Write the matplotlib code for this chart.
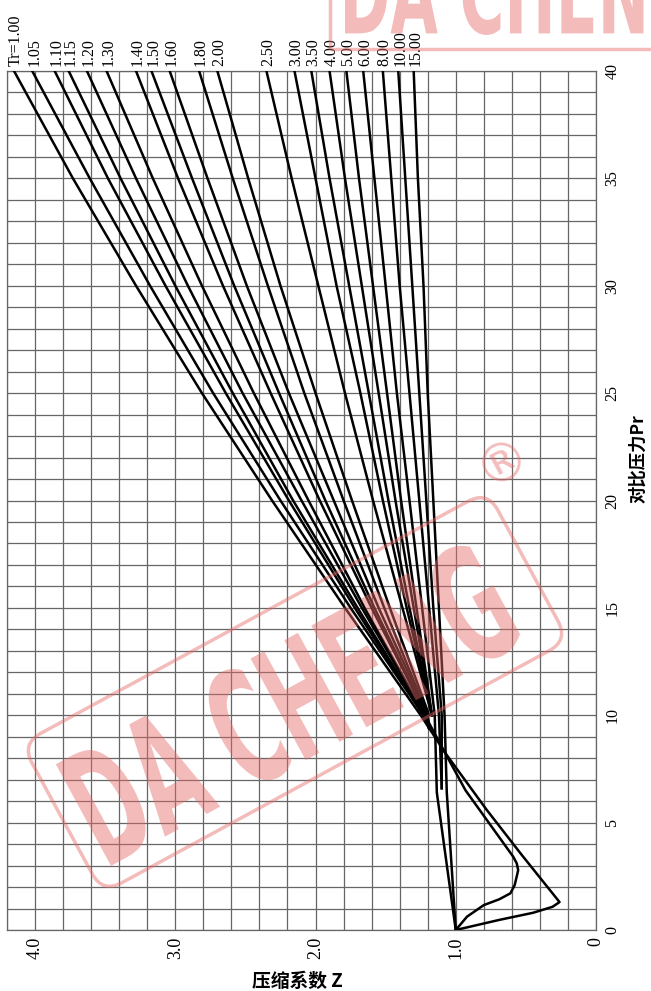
import numpy as np
import matplotlib
matplotlib.use("Agg")
import matplotlib.pyplot as plt
from matplotlib.textpath import TextPath
from matplotlib.font_manager import FontProperties
from matplotlib.patches import PathPatch, FancyBboxPatch, Rectangle
from matplotlib.transforms import Affine2D, IdentityTransform

# ---------------- data ----------------
tr_labels = ["Tr=1.00", "1.05", "1.10", "1.15", "1.20", "1.30", "1.40", "1.50",
             "1.60", "1.80", "2.00", "2.50", "3.00", "3.50", "4.00", "5.00",
             "6.00", "8.00", "10.00", "15.00"]

pr_high = [10, 15, 20, 25, 30, 35, 40]

z_100 = [1.25, 1.79, 2.31, 2.81, 3.28, 3.73, 4.15]
z_105 = [1.23, 1.75, 2.25, 2.73, 3.18, 3.61, 4.02]
z_110 = [1.23, 1.72, 2.19, 2.64, 3.07, 3.48, 3.86]
z_115 = [1.23, 1.70, 2.16, 2.59, 3.00, 3.39, 3.76]
z_120 = [1.22, 1.67, 2.10, 2.52, 2.91, 3.28, 3.63]
z_130 = [1.22, 1.65, 2.05, 2.44, 2.81, 3.16, 3.49]
z_140 = [1.21, 1.60, 1.97, 2.32, 2.66, 2.98, 3.28]
z_150 = [1.21, 1.58, 1.93, 2.26, 2.58, 2.88, 3.17]
z_160 = [1.20, 1.55, 1.87, 2.19, 2.49, 2.77, 3.04]
z_180 = [1.20, 1.51, 1.80, 2.08, 2.34, 2.59, 2.83]
z_200 = [1.19, 1.47, 1.74, 2.00, 2.25, 2.48, 2.70]
z_250 = [1.17, 1.38, 1.59, 1.79, 1.98, 2.17, 2.35]
z_300 = [1.17, 1.35, 1.52, 1.68, 1.85, 2.00, 2.15]
z_350 = [1.17, 1.33, 1.48, 1.62, 1.76, 1.90, 2.03]
z_400 = [1.17, 1.30, 1.43, 1.55, 1.67, 1.79, 1.90]
z_500 = [1.17, 1.28, 1.39, 1.49, 1.59, 1.69, 1.78]
z_600 = [1.15, 1.24, 1.33, 1.42, 1.50, 1.58, 1.66]
z_800 = [1.12, 1.19, 1.26, 1.33, 1.40, 1.46, 1.52]
z_1000 = [1.10, 1.16, 1.21, 1.26, 1.31, 1.36, 1.41]
z_1500 = [1.08, 1.12, 1.16, 1.20, 1.23, 1.27, 1.30]

# low-pressure parts of the curves that reach below Pr = 10
pr_low_100 = [0, 0.47, 0.8, 1.08, 1.3, 3.5, 5.6, 8.2]
z_low_100 = [1.0, 0.69, 0.45, 0.31, 0.26, 0.53, 0.78, 1.07]
pr_low_120 = [0, 0.62, 1.16, 1.43, 1.71, 2.09, 2.5, 2.79, 3.1, 3.41, 6.5, 8.05]
z_low_120 = [1.0, 0.92, 0.80, 0.69, 0.61, 0.58, 0.565, 0.555, 0.565, 0.59, 0.93, 1.06]
pr_low_600 = [0, 6.4]
z_low_600 = [1.0, 1.135]
pr_low_800 = [6.6]
z_low_800 = [1.10]
pr_low_1000 = [6.6]
z_low_1000 = [1.10]
pr_low_1500 = [0, 6.4]
z_low_1500 = [1.0, 1.064]
pr_fan = [9.4]
z_fan = [1.19]

z_ticks = [0, 1, 2, 3, 4]
z_ticklabels = ["0", "1.0", "2.0", "3.0", "4.0"]
pr_ticks = [0, 5, 10, 15, 20, 25, 30, 35, 40]
pr_ticklabels = ["0", "5", "10", "15", "20", "25", "30", "35", "40"]

z_high_all = [z_100, z_105, z_110, z_115, z_120, z_130, z_140, z_150, z_160,
              z_180, z_200, z_250, z_300, z_350, z_400, z_500, z_600, z_800,
              z_1000, z_1500]
low_parts = {
    "Tr=1.00": (pr_low_100, z_low_100),
    "1.20": (pr_low_120, z_low_120),
    "6.00": (pr_low_600, z_low_600),
    "8.00": (pr_low_800, z_low_800),
    "10.00": (pr_low_1000, z_low_1000),
    "15.00": (pr_low_1500, z_low_1500),
}
fan_labels = ["1.05", "1.10", "1.15", "1.30", "1.40", "1.50", "1.60", "1.80"]

# ---------------- figure ----------------
W, H = 651, 991
fig = plt.figure(figsize=(W / 100, H / 100), dpi=100)
fig.patch.set_facecolor("white")
ax = fig.add_axes([7 / W, 61 / H, 589 / W, 859 / H])
ax.set_xlim(4.2, 0)
ax.set_ylim(0, 40)

serif = "Liberation Serif"
ax.set_xticks(z_ticks)
ax.set_xticklabels(z_ticklabels, rotation=90, fontfamily=serif, fontsize=13)
ax.yaxis.tick_right()
ax.set_yticks(pr_ticks)
ax.set_yticklabels(pr_ticklabels, rotation=90, fontfamily=serif, fontsize=11.5,
                   va="center")
ax.set_xticks(np.arange(0, 4.21, 0.2), minor=True)
ax.set_yticks(np.arange(0, 40.1, 1), minor=True)
ax.tick_params(which="both", length=0)
ax.tick_params(axis="x", pad=5)
ax.tick_params(axis="y", pad=6)
ax.grid(which="both", color="#666666", lw=0.9)
ax.set_axisbelow(True)
for s in ax.spines.values():
    s.set_color("#666666")
    s.set_linewidth(0.9)

for lbl, zh in zip(tr_labels, z_high_all):
    if lbl in low_parts:
        pl, zl = low_parts[lbl]
    elif lbl in fan_labels:
        pl, zl = pr_fan, z_fan
    else:
        pl, zl = [], []
    pr = list(pl) + pr_high
    zz = list(zl) + zh
    ax.plot(zz, pr, color="black", lw=1.8, solid_joinstyle="round", zorder=3)
    ax.annotate(lbl, xy=(zh[-1], 40), xytext=(2, 5), textcoords="offset pixels",
                rotation=90, ha="center", va="bottom", fontfamily=serif,
                fontsize=11.5, annotation_clip=False)

cjk = ["Noto Sans CJK SC", "DejaVu Sans"]
fig.text(297 / W, 1 - 981 / H, "压缩系数 Z", family=cjk, fontsize=13.5,
         fontweight="bold", ha="center", va="center")
fig.text(638 / W, 1 - 459 / H, "对比压力Pr", family=cjk, fontsize=12.5,
         fontweight="bold", ha="center", va="center", rotation=90)

# ---------------- watermark ----------------
wm_color = "#E86969"
wm_alpha = 0.45
fp = FontProperties(family="DejaVu Sans", weight="bold")


def wm_text(s, width, height, angle, cx, cy):
    tp = TextPath((0, 0), s, size=100, prop=fp)
    bb = tp.get_extents()
    tr = (Affine2D().translate(-(bb.x0 + bb.width / 2), -(bb.y0 + bb.height / 2))
          .scale(width / bb.width, height / bb.height)
          .rotate_deg(angle).translate(cx, cy))
    patch = PathPatch(tr.transform_path(tp), facecolor=wm_color, edgecolor="none",
                      alpha=wm_alpha, transform=IdentityTransform(), zorder=20)
    fig.add_artist(patch)


wm_text("DA CHENG", 470, 120, 28.5, 290, H - 703)
box = FancyBboxPatch((-265, -85), 530, 170,
                     boxstyle="round,pad=0,rounding_size=22",
                     facecolor="none", edgecolor=wm_color, lw=2.5, alpha=wm_alpha,
                     transform=Affine2D().rotate_deg(28.5).translate(295, H - 692)
                     + IdentityTransform(), zorder=20)
fig.add_artist(box)
fig.text(503 / W, 1 - 462 / H, "®", color=wm_color, alpha=wm_alpha, fontsize=38,
         ha="center", va="center", rotation=28, zorder=20)

# partial watermark at top right
wm_text("DA CHENG", 350, 84, 0, 345 + 175, H - 35 + 42)
top_box = Rectangle((330, H - 49), 400, 200, facecolor="none", edgecolor=wm_color,
                    lw=2.5, alpha=wm_alpha, transform=IdentityTransform(), zorder=20)
fig.add_artist(top_box)

fig.savefig("out.png", dpi=100)
